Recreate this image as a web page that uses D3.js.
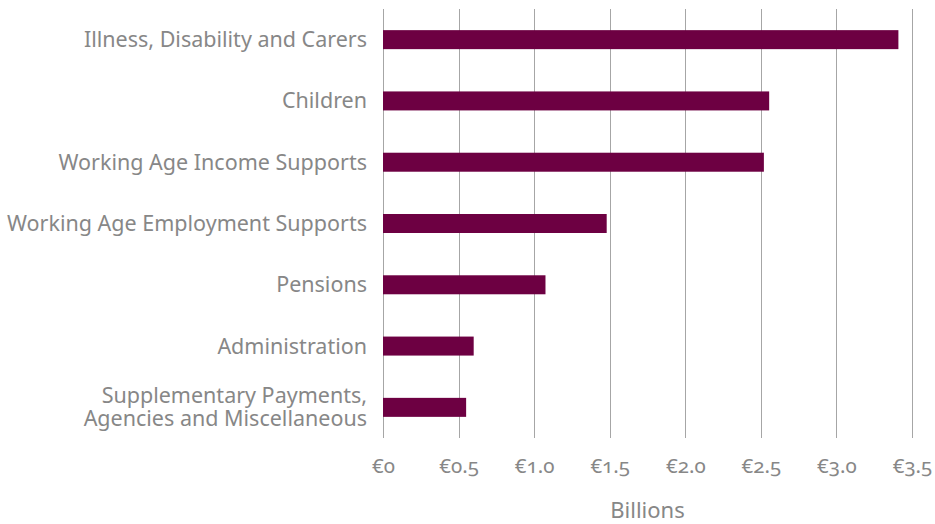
<!DOCTYPE html>
<html>
<head>
<meta charset="utf-8">
<script src="https://cdn.jsdelivr.net/npm/d3@7"></script>
<style>
  html, body { margin: 0; padding: 0; background: #fff; }
  svg { display: block; }
  text { font-family: "Noto Sans", "Open Sans", sans-serif; fill: #878787; }
  .tick text { font-variant-numeric: oldstyle-nums; font-feature-settings: "onum"; }
</style>
</head>
<body>
<div id="chart"></div>
<script>
// Spending by programme area, € billions
const categories = [
  "Illness, Disability and Carers",
  "Children",
  "Working Age Income Supports",
  "Working Age Employment Supports",
  "Pensions",
  "Administration",
  "Supplementary Payments,\nAgencies and Miscellaneous"
];
const values = [3.41, 2.555, 2.52, 1.48, 1.075, 0.6, 0.55];
const tickValues = [0, 0.5, 1.0, 1.5, 2.0, 2.5, 3.0, 3.5];
const tickLabels = ["€0", "€0.5", "€1.0", "€1.5", "€2.0", "€2.5", "€3.0", "€3.5"];
const axisTitle = "Billions";

const width = 935, height = 524;
const margin = { top: 9, right: 23, bottom: 86, left: 383 };
const innerW = width - margin.left - margin.right;
const innerH = height - margin.top - margin.bottom;

const svg = d3.select("#chart").append("svg")
  .attr("width", width).attr("height", height);
const g = svg.append("g").attr("transform", `translate(${margin.left},${margin.top})`);

const x = d3.scaleLinear().domain([0, 3.5]).range([0, innerW]);
const y = d3.scaleBand().domain(categories).range([0, innerH]).paddingInner(0.69).paddingOuter(0.345);

// vertical gridlines
g.append("g").selectAll("line").data(tickValues).join("line")
  .attr("x1", d => Math.round(x(d)) + 0.5).attr("x2", d => Math.round(x(d)) + 0.5)
  .attr("y1", 0).attr("y2", innerH)
  .attr("stroke", "#a6a6a6").attr("stroke-width", 1);

// bars
g.append("g").selectAll("rect").data(values).join("rect")
  .attr("x", x(0))
  .attr("y", (d, i) => y(categories[i]))
  .attr("width", d => x(d) - x(0))
  .attr("height", y.bandwidth())
  .attr("fill", "#6d0042");

// x axis labels
const xAxis = d3.axisBottom(x).tickValues(tickValues)
  .tickFormat((d, i) => tickLabels[i]).tickSize(0).tickPadding(0);
const xg = g.append("g").attr("transform", `translate(0,${innerH})`).call(xAxis);
xg.select(".domain").remove();
xg.selectAll(".tick text").attr("dy", null).attr("y", 35)
  .style("font-size", "20.5px").style("fill", "#878787");

// category labels, wrapped on "\n"
const yAxis = d3.axisLeft(y).tickSize(0).tickPadding(16).tickFormat("");
const yg = g.append("g").call(yAxis);
yg.select(".domain").remove();
yg.selectAll(".tick").each(function(d) {
  const lines = d.split("\n");
  const t = d3.select(this).append("text")
    .attr("x", -16).attr("text-anchor", "end")
    .style("font-size", "21.5px").style("fill", "#878787");
  const lh = 23;
  lines.forEach((ln, k) => {
    t.append("tspan").attr("x", -16)
      .attr("y", (k - (lines.length - 1) / 2) * lh)
      .attr("dy", "0.35em").text(ln);
  });
});

// axis title
svg.append("text")
  .attr("x", margin.left + innerW / 2).attr("y", 518)
  .attr("text-anchor", "middle")
  .style("font-size", "22px")
  .text(axisTitle);
</script>
</body>
</html>
